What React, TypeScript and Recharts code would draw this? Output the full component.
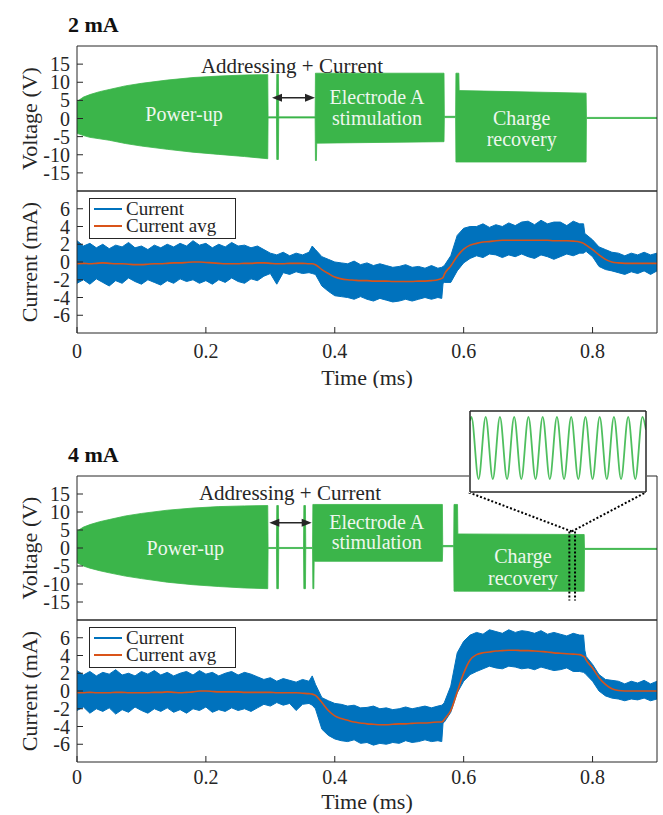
import {
  ComposedChart, LineChart, Area, Line, XAxis, YAxis, Legend, ReferenceDot, ReferenceLine,
} from "recharts";

const FONT = "'Liberation Serif', 'Times New Roman', serif";
const INK = "#262626";
const GREEN = "#3bb54a";
const BLUE = "#0072bd";
const ORANGE = "#d95319";
const WHITE_TXT = "#eef7ee";

// ticks
const timeTicks = [0, 0.2, 0.4, 0.6, 0.8];
const voltTicks = [-15, -10, -5, 0, 5, 10, 15];
const currentTicks = [-6, -4, -2, 0, 2, 4, 6];

// voltage envelope, 2 mA (ms, V)
const voltTime2mA = [0, 0.01, 0.02, 0.035, 0.05, 0.075, 0.1, 0.14, 0.18, 0.22, 0.26, 0.296,
  0.2965, 0.3095, 0.31, 0.3125, 0.313, 0.3695, 0.37, 0.3715, 0.372, 0.5695, 0.57,
  0.5875, 0.588, 0.5925, 0.593, 0.79, 0.7905, 0.9];
const voltHigh2mA = [4.7, 5.9, 6.6, 7.4, 8.0, 9.0, 9.7, 10.6, 11.3, 11.7, 12.0, 12.1,
  0.45, 0.45, 12.2, 12.2, 0.45, 0.45, 12.5, 12.5, 12.5, 12.5, 0.6,
  0.6, 12.5, 12.5, 7.7, 7.0, 0.3, 0.3];
const voltLow2mA = [-4.1, -4.7, -5.2, -5.6, -6.0, -6.9, -7.6, -8.5, -9.3, -9.9, -10.5, -11.1,
  0.15, 0.15, -11.3, -11.3, 0.15, 0.15, -11.6, -11.6, -6.8, -6.4, 0.25,
  0.25, -12.0, -12.0, -12.0, -12.0, 0.0, 0.0];

// voltage envelope, 4 mA
const voltTime4mA = [0, 0.01, 0.02, 0.035, 0.05, 0.075, 0.1, 0.14, 0.18, 0.22, 0.26, 0.296,
  0.2965, 0.3095, 0.31, 0.3125, 0.313, 0.3515, 0.352, 0.3545, 0.355,
  0.3655, 0.366, 0.3675, 0.368, 0.567, 0.5675, 0.5845, 0.585, 0.5905, 0.591,
  0.787, 0.7875, 0.9];
const voltHigh4mA = [4.7, 5.8, 6.5, 7.3, 7.9, 8.9, 9.6, 10.5, 11.1, 11.5, 11.7, 11.8,
  0.15, 0.15, 11.8, 11.8, 0.15, 0.15, 11.8, 11.8, 0.15,
  0.15, 12.1, 12.1, 12.1, 12.1, 0.7, 0.7, 12.1, 12.1, 3.9,
  3.75, -0.1, -0.1];
const voltLow4mA = [-4.1, -5.0, -5.6, -6.3, -6.9, -7.8, -8.5, -9.5, -10.2, -10.7, -11.1, -11.3,
  -0.15, -0.15, -11.3, -11.3, -0.15, -0.15, -11.3, -11.3, -0.15,
  -0.15, -11.3, -11.3, -3.7, -3.7, 0.35, 0.35, -12.0, -12.0, -12.0,
  -12.0, -0.4, -0.4];

// current traces (ms, mA): noise band top/bottom and moving average
const currentTime = [
  0, 0.01, 0.02, 0.03, 0.04, 0.05, 0.06, 0.07, 0.08, 0.09,
  0.1, 0.11, 0.12, 0.13, 0.14, 0.15, 0.16, 0.17, 0.18, 0.19,
  0.2, 0.21, 0.22, 0.23, 0.24, 0.25, 0.26, 0.27, 0.28, 0.29,
  0.3, 0.31, 0.32, 0.33, 0.34, 0.35, 0.36,
  0.365,
  0.37, 0.38, 0.39, 0.4, 0.41, 0.42, 0.43, 0.44, 0.45, 0.46,
  0.47, 0.48, 0.49, 0.5, 0.51, 0.52, 0.53, 0.54, 0.55, 0.56,
  0.566, 0.568,
  0.57, 0.58, 0.59, 0.6, 0.61, 0.62, 0.63, 0.64, 0.65, 0.66, 0.67,
  0.68, 0.69, 0.7, 0.71, 0.72, 0.73, 0.74, 0.75, 0.76, 0.77, 0.78,
  0.786, 0.788,
  0.79, 0.8, 0.81, 0.82, 0.83, 0.84, 0.85, 0.86, 0.87, 0.88, 0.89, 0.9,
];

const currentHigh2mA = [
  2.4, 1.8, 2.1, 1.6, 2.0, 1.5, 1.9, 1.7, 2.2, 1.6,
  1.8, 1.4, 1.9, 1.6, 2.0, 1.7, 2.1, 1.8, 2.4, 1.9,
  2.1, 1.6, 2.0, 1.7, 2.2, 1.8, 1.9, 1.6, 1.8, 1.4,
  1.0, 0.8, 1.1, 0.7, 1.0, 0.8, 1.1,
  1.8,
  1.4, 0.6, 0.3, 0.0, -0.1, -0.2, 0.1, -0.3, -0.1, -0.4,
  -0.2, -0.4, -0.6, -0.5, -0.3, -0.6, -0.5, -0.7, -0.4, -0.7,
  -0.6, -0.5,
  -0.4, 0.7, 3.0, 3.8, 4.0, 4.0, 4.3, 3.9, 4.2, 4.0, 4.4,
  4.1, 4.5, 4.6, 4.2, 4.7, 4.3, 4.5, 4.5, 4.1, 4.6, 4.3,
  4.3, 3.2,
  3.1, 2.5, 1.7, 1.4, 1.1, 1.0, 0.7, 1.0, 0.8, 1.1, 0.8, 1.0,
];
const currentLow2mA = [
  -2.4, -2.0, -2.5, -1.9, -2.3, -2.7, -2.1, -2.4, -1.8, -2.2,
  -2.5, -2.0, -2.3, -2.6, -2.1, -2.4, -1.9, -2.2, -2.0, -2.4,
  -2.1, -2.5, -2.0, -2.3, -1.8, -2.2, -2.4, -1.9, -2.1, -1.6,
  -1.3, -2.5, -1.2, -1.4, -1.1, -1.3, -1.2,
  -1.3,
  -1.4, -2.7, -3.3, -3.8, -3.9, -4.0, -4.2, -3.9, -4.2, -4.4,
  -4.1, -4.3, -4.5, -4.4, -4.2, -4.4, -4.2, -4.0, -4.2, -4.0,
  -4.1, -2.4,
  -2.3, -2.3, -1.0, -0.1, 0.4, 0.7, 0.5, 0.9, 0.8, 0.5, 0.8,
  0.6, 0.9, 0.6, 0.4, 0.8, 0.6, 0.3, 0.6, 0.9, 0.7, 1.0,
  1.0, 1.1,
  1.2, 0.6, -0.5, -0.85, -1.0, -1.2, -1.4, -1.1, -1.3, -1.0, -1.4, -1.0,
];
const currentAvg2mA = [
  -0.2, -0.15, -0.2, -0.15, -0.1, -0.15, -0.2, -0.2, -0.25, -0.3,
  -0.3, -0.25, -0.2, -0.2, -0.15, -0.1, -0.1, -0.05, 0.0, 0.0,
  -0.05, -0.1, -0.15, -0.2, -0.2, -0.2, -0.15, -0.15, -0.1, -0.1,
  -0.15, -0.2, -0.2, -0.15, -0.15, -0.15, -0.2,
  -0.2,
  -0.3, -0.85, -1.3, -1.7, -1.9, -2.0, -2.05, -2.1, -2.1, -2.15,
  -2.15, -2.15, -2.2, -2.2, -2.2, -2.2, -2.15, -2.15, -2.1, -2.0,
  -1.85, -1.75,
  -1.4, -0.45, 0.65, 1.45, 1.9, 2.1, 2.25, 2.3, 2.4, 2.45, 2.45,
  2.45, 2.45, 2.45, 2.45, 2.45, 2.45, 2.4, 2.4, 2.4, 2.35, 2.25,
  2.1, 2.0,
  1.9, 1.4, 0.8, 0.3, 0.0, -0.1, -0.15, -0.15, -0.15, -0.15, -0.15, -0.15,
];

const currentHigh4mA = [
  2.3, 1.8, 2.2, 1.7, 2.1, 1.9, 2.4, 1.8, 2.0, 1.7,
  2.2, 1.9, 2.3, 1.8, 2.1, 1.7, 2.0, 2.2, 1.8, 2.3,
  1.9, 2.1, 1.7, 2.0, 2.2, 1.8, 2.1, 1.9, 1.6, 1.3,
  1.5, 1.1, 1.4, 1.2, 1.0, 1.3, 1.1,
  1.7,
  0.75, -0.75, -1.1, -1.4, -1.5, -1.7, -1.6, -1.9, -1.85, -1.7,
  -2.0, -1.9, -2.1, -2.0, -1.8, -2.0, -1.85, -1.7, -1.9, -1.7,
  -1.6, -1.5,
  -1.3, 0.55, 4.3, 5.6, 6.3, 6.6, 6.4, 6.9, 6.7, 6.5, 6.9,
  6.6, 6.8, 6.7, 6.5, 6.8, 6.4, 6.6, 6.4, 6.2, 6.5, 6.3,
  6.3, 4.6,
  3.9, 3.0, 1.85, 1.3, 1.2, 1.1, 0.8, 1.1, 0.9, 1.2, 0.8, 1.1,
];
const currentLow4mA = [
  -2.2, -1.8, -2.5, -2.0, -2.3, -1.9, -2.6, -2.1, -2.4, -1.8,
  -2.2, -2.5, -2.0, -2.3, -1.9, -2.4, -2.1, -2.5, -2.0, -2.2,
  -1.8, -2.4, -2.1, -2.3, -1.9, -2.2, -2.0, -2.3, -1.9, -1.5,
  -1.7, -1.3, -1.6, -1.4, -2.2, -1.5, -1.4,
  -1.6,
  -2.0, -4.3, -5.0, -5.4, -5.6, -5.7, -5.5, -5.9, -5.8, -6.1,
  -5.9, -6.0, -5.8, -5.9, -5.6, -5.8, -5.7, -5.5, -5.7, -5.6,
  -5.7, -3.6,
  -3.5, -2.4, -0.2, 1.1, 1.85, 2.2, 2.5, 2.8, 2.6, 2.5, 2.8,
  2.7, 2.5, 2.6, 2.4, 2.7, 2.5, 2.3, 2.4, 2.6, 2.2, 2.2,
  2.1, 2.0,
  1.85, 1.1, 0.0, -0.55, -0.8, -0.9, -1.1, -0.9, -1.0, -0.8, -1.1, -0.9,
];
const currentAvg4mA = [
  -0.2, -0.2, -0.15, -0.2, -0.2, -0.2, -0.15, -0.15, -0.2, -0.2,
  -0.2, -0.2, -0.15, -0.15, -0.1, -0.15, -0.2, -0.15, -0.1, 0.0,
  0.0, -0.05, -0.1, -0.1, -0.1, -0.1, -0.15, -0.15, -0.15, -0.15,
  -0.15, -0.2, -0.2, -0.2, -0.2, -0.25, -0.3,
  -0.35,
  -0.5, -1.3, -2.2, -2.8, -3.1, -3.3, -3.5, -3.6, -3.7, -3.75,
  -3.8, -3.8, -3.75, -3.7, -3.7, -3.65, -3.6, -3.6, -3.55, -3.5,
  -3.5, -3.4,
  -3.2, -2.2, -0.1, 2.0, 3.5, 4.1, 4.3, 4.4, 4.5, 4.55, 4.6,
  4.6, 4.55, 4.55, 4.5, 4.45, 4.4, 4.3, 4.25, 4.2, 4.15, 4.1,
  3.9, 3.8,
  3.5, 2.6, 1.5, 0.75, 0.25, 0.05, 0.0, 0.0, 0.0, 0.0, 0.0, 0.0,
];

// zoomed inset of the charge recovery waveform (in periods, V)
const insetTime = [0, 0.1, 0.6, 1.1, 1.6, 2.1, 2.6, 3.1, 3.6, 4.1, 4.6, 5.1, 5.6, 6.1,
  6.6, 7.1, 7.6, 8.1, 8.6, 9.1, 9.6, 10.1, 10.6, 11.1, 11.6, 12.1, 12.35];
const insetVolt = [2.8, 3.8, -12, 3.8, -12, 3.8, -12, 3.8, -12, 3.8, -12, 3.8, -12, 3.8,
  -12, 3.8, -12, 3.8, -12, 3.8, -12, 3.8, -12, 3.8, -12, 3.8, 0.5];
const insetXTicks = [3.15, 6.2, 9.3];
const insetYTicks = [-10, -5, 0];

const voltRows = (time: number[], low: number[], high: number[]) =>
  time.map((t, i) => ({ t, v: [low[i], high[i]] }));
const currentRows = (low: number[], high: number[], avg: number[]) =>
  currentTime.map((t, i) => ({ t, band: [low[i], high[i]], avg: avg[i] }));

const tickFont = { fontFamily: FONT, fontSize: 20, fill: INK };

const YTitle = ({ viewBox, text }: any) => {
  const cx = 29;
  const cy = viewBox.y + viewBox.height / 2;
  return (
    <text x={cx} y={cy} transform={`rotate(-90 ${cx} ${cy})`} textAnchor="middle" dominantBaseline="central"
      fontFamily={FONT} fontSize={22} fill={INK}>{text}</text>
  );
};

const XTitle = ({ viewBox, text, below }: any) => (
  <text x={viewBox.x + viewBox.width / 2} y={viewBox.y + below} textAnchor="middle" dominantBaseline="central"
    fontFamily={FONT} fontSize={22} fill={INK}>{text}</text>
);

const DoubleArrow = (props: any) => {
  const { x1, y1, x2, y2 } = props;
  return (
    <g>
      <line x1={x1 + 4} y1={y1} x2={x2 - 4} y2={y2} stroke={INK} strokeWidth={1.5} />
      <path d={`M${x1},${y1} l10,-4 l0,8 z`} fill={INK} />
      <path d={`M${x2},${y2} l-10,-4 l0,8 z`} fill={INK} />
    </g>
  );
};

const LegendBox = ({ payload }: any) => (
  <div style={{
    width: "100%", height: "100%", boxSizing: "border-box", border: `1.5px solid ${INK}`, background: "#fff",
    padding: "2px 4px", fontFamily: FONT, fontSize: 19, lineHeight: "16.5px", color: INK,
  }}>
    {(payload || []).map((p: any) => (
      <div key={p.value} style={{ display: "flex", alignItems: "center", height: 16.5 }}>
        <span style={{ display: "inline-block", width: 28, height: 2, background: p.color, marginRight: 4 }} />
        {p.value}
      </div>
    ))}
  </div>
);

const note = (x: number, y: number, text: string, fill: string, size = 20) => (
  <ReferenceDot key={text + x + y} x={x} y={y} r={0} fill="none" stroke="none"
    label={{ value: text, position: "center", fill, fontSize: size, fontFamily: FONT }} />
);

function VoltagePanel({ top, plotHeight, rows, children }: any) {
  return (
    <div style={{ position: "absolute", left: 0, top }}>
      <ComposedChart width={663} height={plotHeight + 7} data={rows}
        margin={{ top: 5, right: 5, bottom: 0, left: 17 }}>
        <XAxis dataKey="t" type="number" domain={[0, 0.9]} ticks={timeTicks} tick={false} tickSize={-6}
          height={1} stroke={INK} allowDataOverflow />
        <XAxis xAxisId="top" orientation="top" dataKey="t" type="number" domain={[0, 0.9]} ticks={timeTicks}
          tick={false} tickSize={-6} height={1} stroke={INK} allowDataOverflow />
        <YAxis type="number" domain={[-20, 20]} ticks={voltTicks} interval={0} tickSize={-6} tickMargin={13}
          width={60} tick={tickFont} stroke={INK} allowDataOverflow label={<YTitle text="Voltage (V)" />} />
        <YAxis yAxisId="right" orientation="right" type="number" domain={[-20, 20]} ticks={voltTicks}
          interval={0} tickSize={-6} width={1} tick={false} stroke={INK} allowDataOverflow />
        <Area dataKey="v" type="linear" stroke={GREEN} strokeWidth={0.8} fill={GREEN} fillOpacity={1}
          isAnimationActive={false} />
        {children}
      </ComposedChart>
    </div>
  );
}

function CurrentPanel({ top, rows, labelGap, titleGap }: any) {
  return (
    <div style={{ position: "absolute", left: 0, top }}>
      <ComposedChart width={663} height={6 + 142 + 55} data={rows}
        margin={{ top: 5, right: 5, bottom: 0, left: 17 }}>
        <XAxis dataKey="t" type="number" domain={[0, 0.9]} ticks={timeTicks} interval={0} tickSize={-6}
          tickMargin={labelGap} height={55} tick={tickFont} stroke={INK} allowDataOverflow
          label={<XTitle text="Time (ms)" below={titleGap} />} />
        <XAxis xAxisId="top" orientation="top" dataKey="t" type="number" domain={[0, 0.9]} ticks={timeTicks}
          tick={false} tickSize={-6} height={1} stroke={INK} allowDataOverflow />
        <YAxis type="number" domain={[-8, 8]} ticks={currentTicks} interval={0} tickSize={-6} tickMargin={13}
          width={60} tick={tickFont} stroke={INK} allowDataOverflow label={<YTitle text="Current (mA)" />} />
        <YAxis yAxisId="right" orientation="right" type="number" domain={[-8, 8]} ticks={currentTicks}
          interval={0} tickSize={-6} width={1} tick={false} stroke={INK} allowDataOverflow />
        <Legend layout="horizontal" verticalAlign="middle" align="center" content={<LegendBox />}
          wrapperStyle={{ left: 89, top: 13, width: 147, height: 41 }} />
        <Area dataKey="band" name="Current" type="linear" stroke={BLUE} strokeWidth={1} fill={BLUE}
          fillOpacity={1} isAnimationActive={false} />
        <Line dataKey="avg" name="Current avg" type="monotone" stroke={ORANGE} strokeWidth={1.6} dot={false}
          isAnimationActive={false} />
      </ComposedChart>
    </div>
  );
}

const titleStyle = {
  position: "absolute" as const, left: 68, fontFamily: FONT, fontWeight: 700, fontSize: 22, lineHeight: "22px", color: "#111",
};

function App() {
  const insetRows = insetTime.map((t, i) => ({ t, v: insetVolt[i] }));
  const dotted = { stroke: "#000", strokeWidth: 2, strokeDasharray: "2 2" };

  return (
    <div style={{ position: "absolute", left: 0, top: 0, width: 663, height: 815, background: "#fff" }}>
      <div style={{ ...titleStyle, top: 14 }}>2 mA</div>
      <VoltagePanel top={40} plotHeight={145} rows={voltRows(voltTime2mA, voltLow2mA, voltHigh2mA)}>
        <ReferenceLine segment={[{ x: 0.3026, y: 5.75 }, { x: 0.3693, y: 5.75 }]} shape={DoubleArrow} />
        {note(0.3336, 14.5, "Addressing + Current", INK, 21)}
        {note(0.166, 1.4, "Power-up", WHITE_TXT)}
        {note(0.4655, 6.0, "Electrode A", WHITE_TXT)}
        {note(0.4655, 0.1, "stimulation", WHITE_TXT)}
        {note(0.69, 0.3, "Charge", WHITE_TXT)}
        {note(0.69, -5.5, "recovery", WHITE_TXT)}
      </VoltagePanel>
      <CurrentPanel top={185} rows={currentRows(currentLow2mA, currentHigh2mA, currentAvg2mA)}
        labelGap={16.5} titleGap={44} />

      <div style={{ ...titleStyle, top: 444 }}>4 mA</div>
      <VoltagePanel top={470} plotHeight={144} rows={voltRows(voltTime4mA, voltLow4mA, voltHigh4mA)}>
        <ReferenceLine segment={[{ x: 0.2984, y: 7.0 }, { x: 0.3642, y: 7.0 }]} shape={DoubleArrow} />
        {note(0.3305, 15.4, "Addressing + Current", INK, 21)}
        {note(0.168, 0, "Power-up", WHITE_TXT)}
        {note(0.465, 7.2, "Electrode A", WHITE_TXT)}
        {note(0.465, 1.8, "stimulation", WHITE_TXT)}
        {note(0.692, -2.3, "Charge", WHITE_TXT)}
        {note(0.692, -8.2, "recovery", WHITE_TXT)}
        <ReferenceLine segment={[{ x: 0.764, y: 4.6 }, { x: 0.764, y: -14.6 }]} {...dotted} />
        <ReferenceLine segment={[{ x: 0.7728, y: 4.6 }, { x: 0.7728, y: -14.6 }]} {...dotted} />
        <ReferenceLine segment={[{ x: 0.7677, y: 4.6 }, { x: 0.607, y: 15.5 }]} {...dotted} />
        <ReferenceLine segment={[{ x: 0.7677, y: 4.6 }, { x: 0.883, y: 15.5 }]} {...dotted} />
      </VoltagePanel>
      <CurrentPanel top={614} rows={currentRows(currentLow4mA, currentHigh4mA, currentAvg4mA)}
        labelGap={13.5} titleGap={39.5} />

      <div style={{ position: "absolute", left: 469, top: 410, background: "#fff" }}>
        <LineChart width={178} height={83} data={insetRows} margin={{ top: 0, right: 0, bottom: 0, left: 0 }}>
          <XAxis dataKey="t" type="number" domain={[0, 12.35]} ticks={insetXTicks} tick={false} tickSize={-4}
            height={1} stroke={INK} strokeWidth={1.5} allowDataOverflow />
          <XAxis xAxisId="top" orientation="top" dataKey="t" type="number" domain={[0, 12.35]} ticks={insetXTicks}
            tick={false} tickSize={-4} height={1} stroke={INK} strokeWidth={1.5} allowDataOverflow />
          <YAxis type="number" domain={[-15.3, 5.3]} ticks={insetYTicks} tick={false} tickSize={-4} width={1}
            stroke={INK} strokeWidth={1.5} allowDataOverflow />
          <YAxis yAxisId="right" orientation="right" type="number" domain={[-15.3, 5.3]} ticks={insetYTicks}
            tick={false} tickSize={-4} width={1} stroke={INK} strokeWidth={1.5} allowDataOverflow />
          <Line dataKey="v" type="monotone" stroke="#4fbf5f" strokeWidth={1.8} dot={false}
            isAnimationActive={false} />
        </LineChart>
      </div>
    </div>
  );
}

export default App;
